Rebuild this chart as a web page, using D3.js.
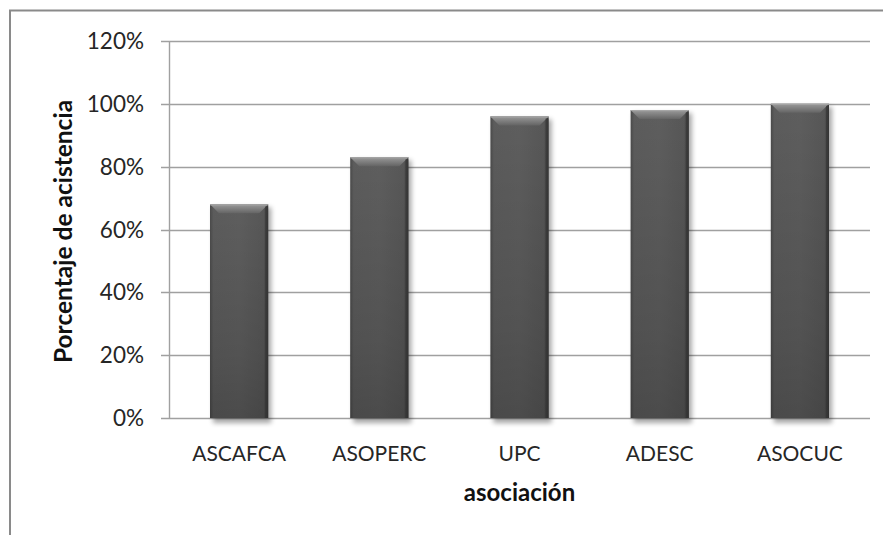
<!DOCTYPE html>
<html>
<head>
<meta charset="utf-8">
<script src="https://cdn.jsdelivr.net/npm/d3@7"></script>
<style>
  html, body { margin: 0; padding: 0; background: #fff; }
  svg { display: block; }
</style>
</head>
<body>
<svg id="chart" width="883" height="535"></svg>
<script>
// Attendance percentage by association
const categories = ["ASCAFCA", "ASOPERC", "UPC", "ADESC", "ASOCUC"];
const values = [68, 83, 96, 98, 100];
const yTicks = [0, 20, 40, 60, 80, 100, 120];

const svg = d3.select("#chart");
const plot = { left: 169, right: 870, top: 41, bottom: 418 };
const font = "Lato, 'Open Sans', sans-serif";

// outer frame (runs off the right and bottom edges)
svg.append("rect")
  .attr("x", 10).attr("y", 10.5)
  .attr("width", 900).attr("height", 600)
  .attr("fill", "none").attr("stroke", "#8a8a8a").attr("stroke-width", 2);

const x = d3.scaleBand().domain(categories).range([plot.left, plot.right]).paddingInner(0.585).paddingOuter(0.2925);
const y = d3.scaleLinear().domain([0, 120]).range([plot.bottom, plot.top]);

const defs = svg.append("defs");
const body = defs.append("linearGradient").attr("id", "barBody").attr("x1", 0).attr("x2", 1).attr("y1", 0).attr("y2", 0);
[[0, "#4a4a4a"], [0.06, "#5c5c5c"], [0.5, "#5e5e5e"], [0.92, "#575757"], [1, "#3a3a3a"]]
  .forEach(([o, c]) => body.append("stop").attr("offset", o).attr("stop-color", c));
const vert = defs.append("linearGradient").attr("id", "barVert").attr("x1", 0).attr("x2", 0).attr("y1", 0).attr("y2", 1);
[[0, "#000", 0], [0.7, "#000", 0.12], [1, "#000", 0.2]]
  .forEach(([o, c, a]) => vert.append("stop").attr("offset", o).attr("stop-color", c).attr("stop-opacity", a));
const bevel = defs.append("linearGradient").attr("id", "bevel").attr("x1", 0).attr("x2", 0).attr("y1", 0).attr("y2", 1);
[[0, "#9a9a9a"], [1, "#646464"]]
  .forEach(([o, c]) => bevel.append("stop").attr("offset", o).attr("stop-color", c));
const blur = defs.append("filter").attr("id", "shadow").attr("x", "-20%").attr("y", "-5%").attr("width", "140%").attr("height", "115%");
blur.append("feGaussianBlur").attr("stdDeviation", 2.5);

// gridlines with outward tick stubs
svg.append("g").selectAll("line").data(yTicks).join("line")
  .attr("x1", plot.left - 8).attr("x2", plot.right)
  .attr("y1", d => Math.round(y(d)) + 0.5).attr("y2", d => Math.round(y(d)) + 0.5)
  .attr("stroke", "#a0a0a0").attr("stroke-width", 1.4);

// y axis line
svg.append("line")
  .attr("x1", plot.left + 0.5).attr("x2", plot.left + 0.5)
  .attr("y1", Math.round(y(120)) + 0.5).attr("y2", Math.round(y(0)) + 0.5)
  .attr("stroke", "#a0a0a0").attr("stroke-width", 1.4);

// bars
const bars = svg.append("g").selectAll("g").data(categories).join("g");
const bw = x.bandwidth();
bars.append("rect")
  .attr("x", d => x(d) + 3).attr("y", (d, i) => y(values[i]) + 3)
  .attr("width", bw).attr("height", (d, i) => y(0) - y(values[i]) + 2)
  .attr("fill", "#000").attr("opacity", 0.35).attr("filter", "url(#shadow)");
bars.append("rect")
  .attr("x", d => x(d)).attr("y", (d, i) => y(values[i]))
  .attr("width", bw).attr("height", (d, i) => y(0) - y(values[i]))
  .attr("fill", "url(#barBody)");
bars.append("rect")
  .attr("x", d => x(d)).attr("y", (d, i) => y(values[i]))
  .attr("width", bw).attr("height", (d, i) => y(0) - y(values[i]))
  .attr("fill", "url(#barVert)");
// top bevel
bars.append("path")
  .attr("d", (d, i) => {
    const x0 = x(d), x1 = x(d) + bw, t = y(values[i]), b = 9;
    return `M${x0},${t}L${x1},${t}L${x1 - b},${t + b}L${x0 + b},${t + b}Z`;
  })
  .attr("fill", "url(#bevel)");
bars.append("line")
  .attr("x1", d => x(d)).attr("x2", d => x(d) + bw)
  .attr("y1", (d, i) => y(values[i]) + 0.5).attr("y2", (d, i) => y(values[i]) + 0.5)
  .attr("stroke", "#a8a8a8").attr("stroke-width", 1);
// dark right edge
bars.append("rect")
  .attr("x", d => x(d) + bw - 3).attr("y", (d, i) => y(values[i]) + 2)
  .attr("width", 3).attr("height", (d, i) => y(0) - y(values[i]) - 2)
  .attr("fill", "#333").attr("opacity", 0.6);

// y tick labels
svg.append("g").selectAll("text").data(yTicks).join("text")
  .attr("x", 144).attr("y", d => y(d) + 8)
  .attr("text-anchor", "end")
  .attr("font-family", font).attr("font-size", 22.5).attr("fill", "#262626")
  .text(d => d + "%");

// category labels
svg.append("g").selectAll("text").data(categories).join("text")
  .attr("x", d => x(d) + bw / 2).attr("y", 461)
  .attr("text-anchor", "middle")
  .attr("font-family", font).attr("font-size", 21).attr("fill", "#262626")
  .text(d => d);

// axis titles
svg.append("text")
  .attr("x", (plot.left + plot.right) / 2).attr("y", 501)
  .attr("text-anchor", "middle")
  .attr("font-family", font).attr("font-size", 24).attr("font-weight", "bold").attr("fill", "#111")
  .text("asociación");

svg.append("text")
  .attr("transform", "translate(72, 231.5) rotate(-90)")
  .attr("text-anchor", "middle")
  .attr("font-family", font).attr("font-size", 24.5).attr("font-weight", "bold").attr("fill", "#111")
  .text("Porcentaje de acistencia");
</script>
</body>
</html>
